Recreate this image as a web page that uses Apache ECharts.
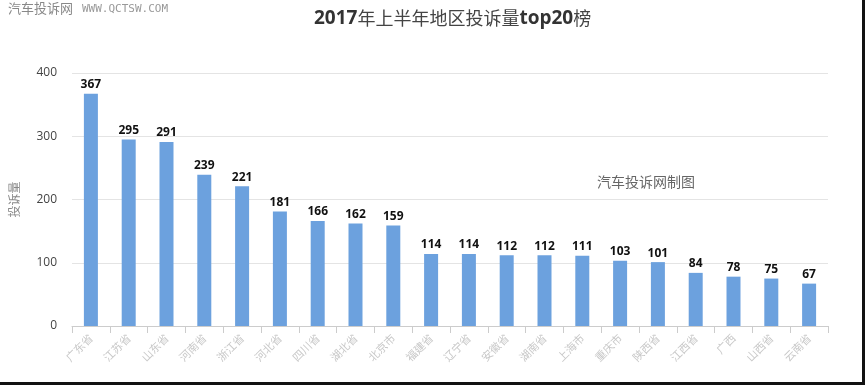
<!DOCTYPE html>
<html>
<head>
<meta charset="utf-8">
<script src="https://cdn.jsdelivr.net/npm/echarts@6/dist/echarts.min.js"></script>
<style>
html,body{margin:0;padding:0;background:#fff;}
#wrap{position:relative;width:865px;height:385px;overflow:hidden;}
#chart{width:865px;height:385px;}
#edgeR{position:absolute;right:0;top:0;width:3px;height:385px;background:#111;}
#edgeB{position:absolute;left:0;bottom:0;width:865px;height:3px;background:#111;}
</style>
</head>
<body>
<div id="wrap"><div id="chart"></div><div id="edgeR"></div><div id="edgeB"></div></div>
<script>
const categories = ['广东省','江苏省','山东省','河南省','浙江省','河北省','四川省','湖北省','北京市','福建省','辽宁省','安徽省','湖南省','上海市','重庆市','陕西省','江西省','广西','山西省','云南省'];
const values = [367,295,291,239,221,181,166,162,159,114,114,112,112,111,103,101,84,78,75,67];
const yTicks = [0,100,200,300,400];

const chart = echarts.init(document.getElementById('chart'));
chart.setOption({
  animation: false,
  title: {
    text: '{b|2017}年上半年地区投诉量{b|top20}榜',
    left: 309,
    top: 4,
    textStyle: {
      fontSize: 18, fontWeight: 'normal', color: '#444',
      fontFamily: 'Noto Sans CJK SC, sans-serif',
      rich: { b: { fontSize: 19, fontWeight: 'bold', color: '#333', fontFamily: 'Open Sans, sans-serif' } }
    }
  },
  graphic: [
    { type: 'text', left: 8, top: 2, style: { text: '汽车投诉网', fontSize: 13, fill: '#888', fontFamily: 'Noto Sans CJK SC' } },
    { type: 'text', left: 82, top: 4, style: { text: 'WWW.QCTSW.COM', fontSize: 11, fill: '#999', fontFamily: 'DejaVu Sans Mono' } },
    { type: 'text', left: 597, top: 175, style: { text: '汽车投诉网制图', fontSize: 14, fill: '#666', fontFamily: 'Noto Sans CJK SC' } }
  ],
  grid: { left: 72, right: 37, top: 73, bottom: 59, containLabel: false },
  xAxis: {
    type: 'category',
    data: categories,
    axisLine: { lineStyle: { color: '#ccc' } },
    axisTick: { show: true, length: 7, lineStyle: { color: '#ccc' } },
    axisLabel: { rotate: 45, fontSize: 11, color: '#c8c8c8', margin: 10, fontFamily: 'Noto Sans CJK SC' }
  },
  yAxis: {
    type: 'value',
    min: 0, max: 400, interval: 100,
    name: '投诉量',
    nameLocation: 'middle',
    nameGap: 52,
    nameRotate: 90,
    nameTextStyle: { fontSize: 12, color: '#888', fontFamily: 'Noto Sans CJK SC' },
    axisLine: { show: false },
    axisTick: { show: false },
    axisLabel: { fontSize: 12, color: '#444', margin: 15, fontFamily: 'Open Sans',
      formatter: v => yTicks.includes(v) ? String(v) : '' },
    splitLine: { lineStyle: { color: '#e4e4e4' } }
  },
  series: [{
    type: 'bar',
    data: values,
    barWidth: 14,
    itemStyle: { color: '#6ca1de' },
    label: { show: true, position: 'top', fontSize: 12, fontWeight: 'bold', color: '#111', distance: 3, fontFamily: 'Open Sans' }
  }]
});
</script>
</body>
</html>
